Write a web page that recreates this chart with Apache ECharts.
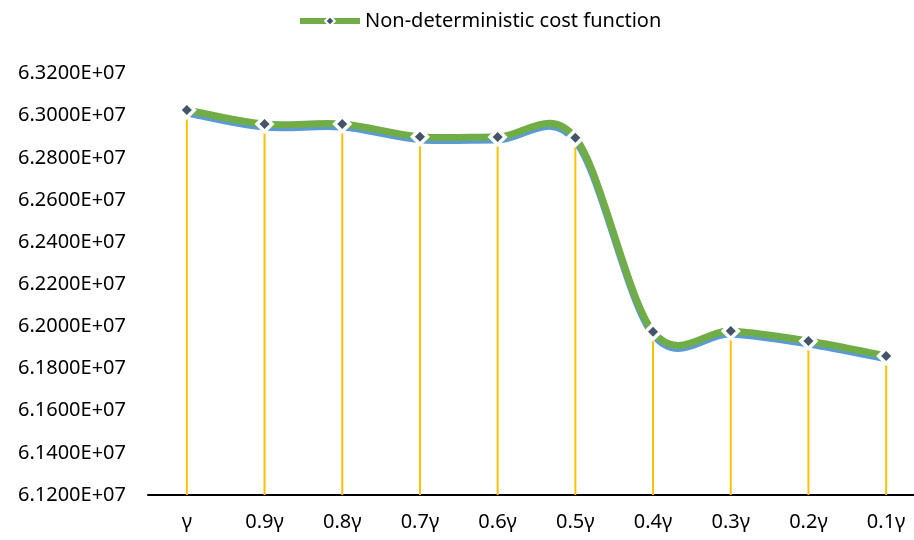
<!DOCTYPE html>
<html>
<head>
<meta charset="utf-8">
<script src="https://cdn.jsdelivr.net/npm/echarts@6/dist/echarts.min.js"></script>
<style>
  html, body { margin: 0; padding: 0; background: #fff; overflow: hidden; }
  #chart { width: 926px; height: 540px; }
</style>
</head>
<body>
<div id="chart"></div>
<script>
// Cost under decreasing γ levels
const categories = ['γ', '0.9γ', '0.8γ', '0.7γ', '0.6γ', '0.5γ', '0.4γ', '0.3γ', '0.2γ', '0.1γ'];
const costValues = [63027000, 62960000, 62960000, 62900000, 62899000, 62895000, 61975000, 61978000, 61931000, 61860000];
const seriesName = 'Non-deterministic cost function';
const yMin = 61200000;
const yMax = 63200000;
const yStep = 200000;

// Format ticks like 6.3200E+07
function sciLabel(v) {
  const exp = Math.floor(Math.log10(Math.abs(v)));
  const mant = (v / Math.pow(10, exp)).toFixed(4);
  const sign = exp >= 0 ? '+' : '-';
  const e = String(Math.abs(exp)).padStart(2, '0');
  return mant + 'E' + sign + e;
}

// Smoothed curve through the points (cubic Bezier, Catmull-Rom style tangents)
function renderCurve(params, api) {
  if (params.dataIndex !== 0) return;
  const pts = costValues.map(function (v, i) { return api.coord([i, v]); });
  const n = pts.length;
  let d = 'M' + pts[0][0] + ' ' + pts[0][1];
  for (let i = 0; i < n - 1; i++) {
    const p0 = pts[Math.max(i - 1, 0)];
    const p1 = pts[i];
    const p2 = pts[i + 1];
    const p3 = pts[Math.min(i + 2, n - 1)];
    const c1x = p1[0] + (p2[0] - p0[0]) / 6;
    const c1y = p1[1] + (p2[1] - p0[1]) / 6;
    const c2x = p2[0] - (p3[0] - p1[0]) / 6;
    const c2y = p2[1] - (p3[1] - p1[1]) / 6;
    d += ' C' + c1x + ' ' + c1y + ' ' + c2x + ' ' + c2y + ' ' + p2[0] + ' ' + p2[1];
  }
  return {
    type: 'path',
    silent: true,
    shape: { pathData: d },
    style: {
      fill: 'none',
      stroke: '#70AD47',
      lineWidth: 7,
      lineCap: 'butt',
      shadowColor: '#5B9BD5',
      shadowBlur: 0,
      shadowOffsetX: 0,
      shadowOffsetY: 3
    }
  };
}

const font = '"Noto Sans", sans-serif';
const chart = echarts.init(document.getElementById('chart'), null, { renderer: 'canvas' });
chart.setOption({
  animation: false,
  backgroundColor: '#ffffff',
  legend: {
    data: [seriesName],
    top: 6,
    left: 292,
    itemWidth: 60,
    itemHeight: 12,
    itemGap: 4,
    lineStyle: { color: '#70AD47', width: 6, opacity: 1 },
    textStyle: { fontFamily: font, fontSize: 20, color: '#000' }
  },
  grid: { left: 148, top: 73.5, width: 777, bottom: 45, containLabel: false },
  xAxis: {
    type: 'category',
    data: categories,
    boundaryGap: true,
    axisLine: { show: true, lineStyle: { color: '#000', width: 2 } },
    axisTick: { show: false },
    axisLabel: { margin: 17, fontFamily: font, fontSize: 20, color: '#000' },
    splitLine: { show: false }
  },
  yAxis: {
    type: 'value',
    min: yMin,
    max: yMax,
    interval: yStep,
    axisLine: { show: false },
    axisTick: { show: false },
    splitLine: { show: false },
    axisLabel: { margin: 22, fontFamily: font, fontSize: 20, color: '#000', formatter: sciLabel }
  },
  series: [
    {
      // drop lines from each point down to the axis
      name: 'drop',
      type: 'bar',
      data: costValues,
      barWidth: 2,
      itemStyle: { color: '#FFC000' },
      z: 1
    },
    {
      name: 'curve',
      type: 'custom',
      coordinateSystem: 'cartesian2d',
      data: costValues,
      renderItem: renderCurve,
      clip: false,
      z: 2
    },
    {
      name: seriesName,
      type: 'line',
      data: costValues,
      symbol: 'diamond',
      symbolSize: 15,
      itemStyle: { color: '#44546A', borderColor: '#ffffff', borderWidth: 3.5 },
      lineStyle: { opacity: 0 },
      z: 3
    }
  ]
});
</script>
</body>
</html>
